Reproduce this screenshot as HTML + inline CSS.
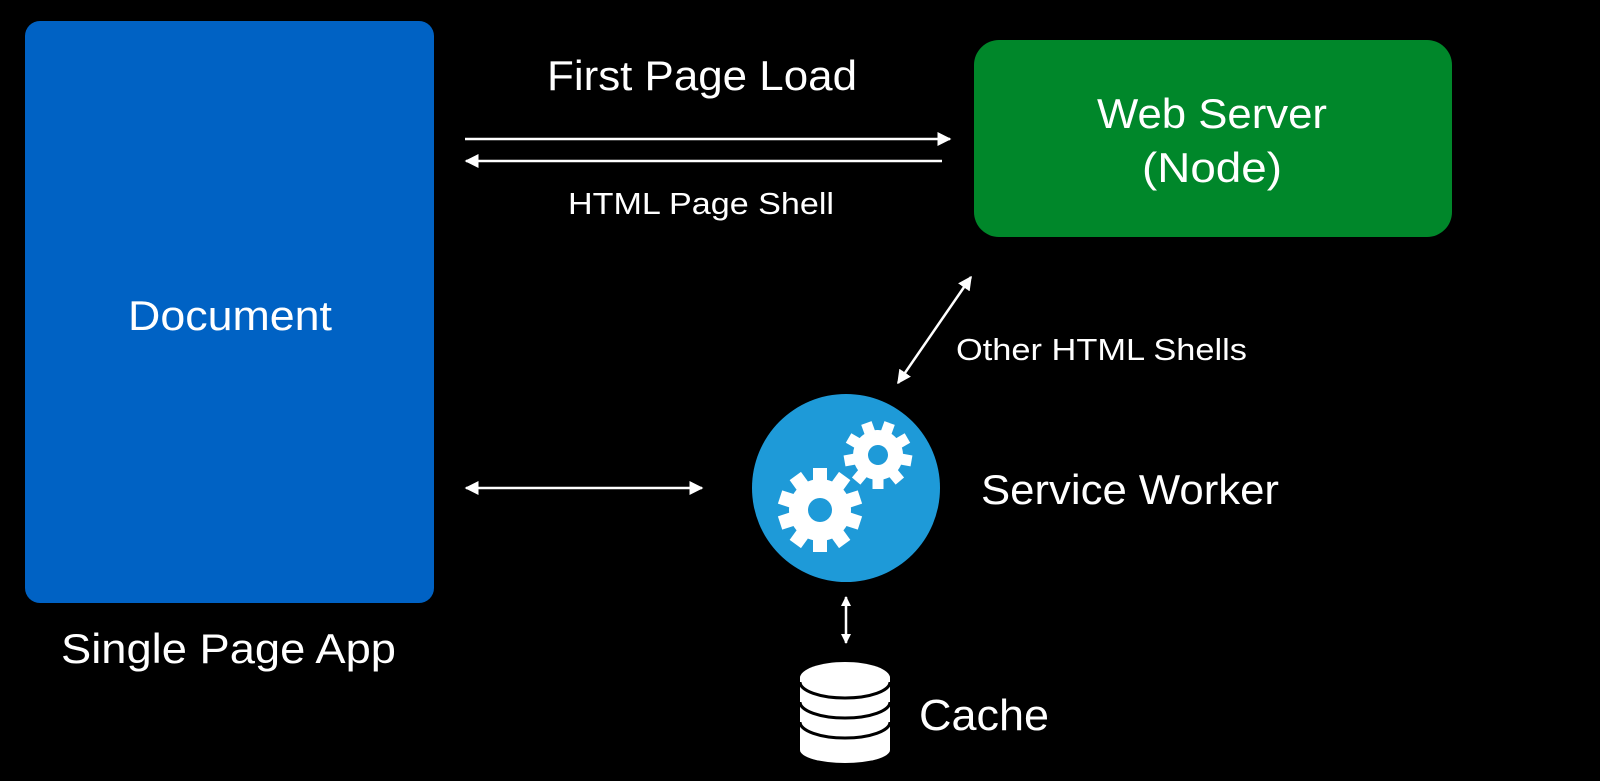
<!DOCTYPE html>
<html><head><meta charset="utf-8"><style>
html,body{margin:0;padding:0;background:#000;}
svg{display:block;}
text{font-family:"Liberation Sans",sans-serif;fill:#fff;}
</style></head><body>
<svg width="1600" height="781" viewBox="0 0 1600 781" xmlns="http://www.w3.org/2000/svg">
<defs>
<marker id="ah" viewBox="0 0 10 10" refX="9" refY="5" markerWidth="10" markerHeight="10" markerUnits="userSpaceOnUse" orient="auto-start-reverse">
<path d="M0,0 L10,5 L0,10 z" fill="#fff"/></marker>
<marker id="ah2" viewBox="0 0 10 10" refX="9" refY="5" markerWidth="14" markerHeight="14" markerUnits="userSpaceOnUse" orient="auto-start-reverse">
<path d="M0,0 L10,5 L0,10 z" fill="#fff"/></marker>
</defs>
<rect x="0" y="0" width="1600" height="781" fill="#000"/>
<rect x="25" y="21" width="409" height="582" rx="15" fill="#0062C4"/>
<rect x="974" y="40" width="478" height="197" rx="25" fill="#00872A"/>

<text x="702" y="90" font-size="42" text-anchor="middle" textLength="310" lengthAdjust="spacingAndGlyphs">First Page Load</text>
<text x="1212" y="128" font-size="42" text-anchor="middle" textLength="230" lengthAdjust="spacingAndGlyphs">Web Server</text>
<text x="1212" y="182" font-size="42" text-anchor="middle" textLength="140" lengthAdjust="spacingAndGlyphs">(Node)</text>
<text x="701" y="214" font-size="31" text-anchor="middle" textLength="266" lengthAdjust="spacingAndGlyphs">HTML Page Shell</text>
<text x="230" y="330" font-size="42" text-anchor="middle" textLength="204" lengthAdjust="spacingAndGlyphs">Document</text>
<text x="61" y="663" font-size="42" textLength="335" lengthAdjust="spacingAndGlyphs">Single Page App</text>
<text x="956" y="360" font-size="31" textLength="291" lengthAdjust="spacingAndGlyphs">Other HTML Shells</text>
<text x="981" y="504" font-size="42" textLength="298" lengthAdjust="spacingAndGlyphs">Service Worker</text>
<text x="919" y="730" font-size="44" textLength="130" lengthAdjust="spacingAndGlyphs">Cache</text>

<g stroke="#fff" stroke-width="2.5" fill="none">
<line x1="465" y1="139" x2="950" y2="139" marker-end="url(#ah2)"/>
<line x1="942" y1="161" x2="466" y2="161" marker-end="url(#ah2)"/>
<line x1="898" y1="383" x2="971" y2="277" marker-start="url(#ah2)" marker-end="url(#ah2)"/>
<line x1="466" y1="488" x2="702" y2="488" marker-start="url(#ah2)" marker-end="url(#ah2)"/>
<line x1="846" y1="597" x2="846" y2="643" marker-start="url(#ah)" marker-end="url(#ah)"/>
</g>

<circle cx="846" cy="488" r="94" fill="#1E9AD8"/>
<g fill="#fff">
<g transform="translate(820,510)">
<circle r="31"/>
<rect x="-7" y="-42" width="14" height="16" transform="rotate(0)"/>
<rect x="-7" y="-42" width="14" height="16" transform="rotate(36)"/>
<rect x="-7" y="-42" width="14" height="16" transform="rotate(72)"/>
<rect x="-7" y="-42" width="14" height="16" transform="rotate(108)"/>
<rect x="-7" y="-42" width="14" height="16" transform="rotate(144)"/>
<rect x="-7" y="-42" width="14" height="16" transform="rotate(180)"/>
<rect x="-7" y="-42" width="14" height="16" transform="rotate(216)"/>
<rect x="-7" y="-42" width="14" height="16" transform="rotate(252)"/>
<rect x="-7" y="-42" width="14" height="16" transform="rotate(288)"/>
<rect x="-7" y="-42" width="14" height="16" transform="rotate(324)"/>
<circle r="12" fill="#1E9AD8"/>
</g>
<g transform="translate(878,455) rotate(20)">
<circle r="25"/>
<rect x="-5.5" y="-34" width="11" height="14" transform="rotate(0)"/>
<rect x="-5.5" y="-34" width="11" height="14" transform="rotate(40)"/>
<rect x="-5.5" y="-34" width="11" height="14" transform="rotate(80)"/>
<rect x="-5.5" y="-34" width="11" height="14" transform="rotate(120)"/>
<rect x="-5.5" y="-34" width="11" height="14" transform="rotate(160)"/>
<rect x="-5.5" y="-34" width="11" height="14" transform="rotate(200)"/>
<rect x="-5.5" y="-34" width="11" height="14" transform="rotate(240)"/>
<rect x="-5.5" y="-34" width="11" height="14" transform="rotate(280)"/>
<rect x="-5.5" y="-34" width="11" height="14" transform="rotate(320)"/>
<circle r="10" fill="#1E9AD8"/>
</g>
</g>

<g>
<path d="M800,750 L800,678 A45,15 0 0 1 890,678 L890,750 A45,13 0 0 1 800,750 z" fill="#fff"/>
<ellipse cx="845" cy="678" rx="45" ry="16" fill="#fff"/>
<path d="M800,682 A45,16 0 0 0 890,682" fill="none" stroke="#000" stroke-width="3"/>
<path d="M800,702 A45,16 0 0 0 890,702" fill="none" stroke="#000" stroke-width="3"/>
<path d="M800,722 A45,16 0 0 0 890,722" fill="none" stroke="#000" stroke-width="3"/>
</g>
</svg>
</body></html>
